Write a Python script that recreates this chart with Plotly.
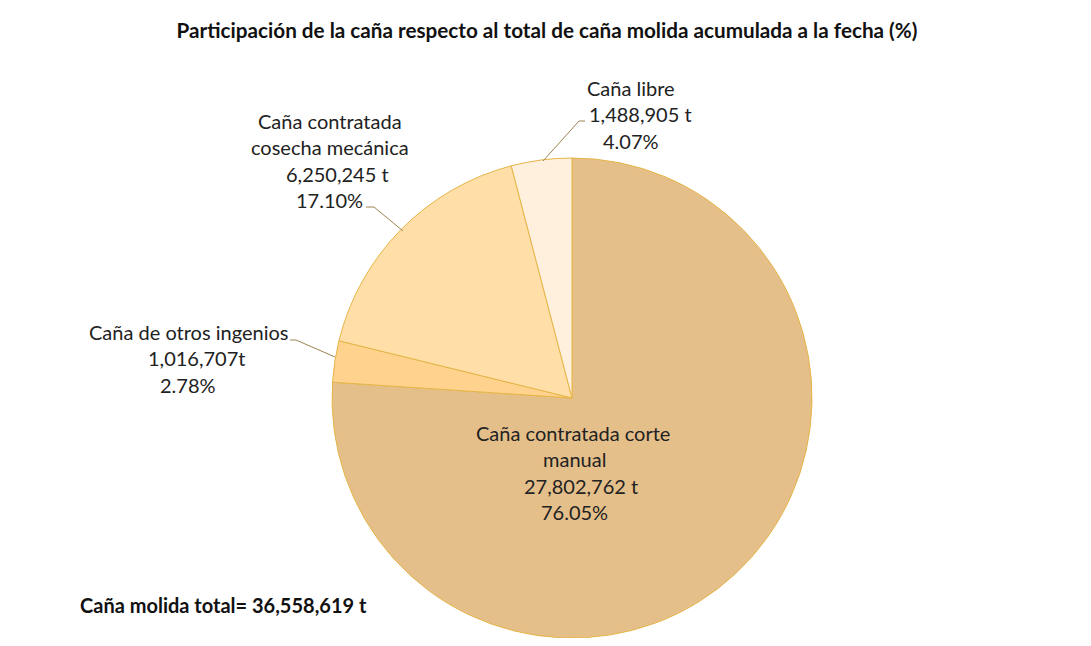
import plotly.graph_objects as go

# data
labels = ["Caña contratada corte manual", "Caña de otros ingenios",
          "Caña contratada cosecha mecánica", "Caña libre"]
tons = [27802762, 1016707, 6250245, 1488905]
percents = [76.05, 2.78, 17.10, 4.07]
total_tons = 36558619

colors = ["#E5BF8A", "#FFD28E", "#FFDFA7", "#FFF0DD"]
FONT = "Lato"

# the page body adds an 8px margin, so the figure is drawn 8px in
OFF = 8
W, H = 1091 - 2 * OFF, 646 - 2 * OFF


def px(x, y):
    return (x - OFF) / W, 1 - (y - OFF) / H


fig = go.Figure()
x0, y0 = px(332, 638)
x1, y1 = px(812, 158)
fig.add_trace(go.Pie(
    labels=labels,
    values=tons,
    sort=False,
    direction="clockwise",
    rotation=0,
    textinfo="none",
    hoverinfo="label+value+percent",
    marker=dict(colors=colors, line=dict(color="#E6B548", width=1)),
    domain=dict(x=[x0, x1], y=[y0, y1]),
    showlegend=False,
))


def fmt_t(v, space=True):
    return f"{v:,}" + (" t" if space else "t")


# label text blocks: lines with their centre x, first line y
blocks = [
    ([("Caña contratada corte", 573), ("manual", 574),
      (fmt_t(tons[0]), 581), (f"{percents[0]:.2f}%", 574)], 433),
    ([("Caña de otros ingenios", 188), (fmt_t(tons[1], False), 196),
      (f"{percents[1]:.2f}%", 188)], 332),
    ([("Caña contratada", 330), ("cosecha mecánica", 330),
      (fmt_t(tons[2]), 337), (f"{percents[2]:.2f}%", 329)], 121),
    ([("Caña libre", 631), (fmt_t(tons[3]), 640), (f"{percents[3]:.2f}%", 631)], 88),
]
for lines, ly in blocks:
    for k, (line, cx) in enumerate(lines):
        x, y = px(cx, ly + k * 26.3)
        fig.add_annotation(x=x, y=y, xref="paper", yref="paper", text=line,
                           showarrow=False, xanchor="center", yanchor="middle",
                           font=dict(family=FONT, size=20, color="#222222"))

# leader lines
leaders = [
    [(335, 357), (296, 340), (290, 340)],
    [(403, 231), (374, 207), (366, 207)],
    [(543, 161), (579, 121), (585, 121)],
]
for pts in leaders:
    path = "M " + " L ".join(f"{px(a, b)[0]} {px(a, b)[1]}" for a, b in pts)
    fig.add_shape(type="path", path=path, xref="paper", yref="paper",
                  line=dict(color="#9C8450", width=1))

tx, ty = px(78, 605)
fig.add_annotation(x=tx, y=ty, xref="paper", yref="paper",
                   text=f"<b>Caña molida total= {total_tons:,} t</b>", showarrow=False,
                   xanchor="left", yanchor="middle",
                   font=dict(family=FONT, size=20, color="#111111"))

fig.update_layout(
    width=W, height=H,
    margin=dict(l=0, r=0, t=0, b=0),
    paper_bgcolor="white",
    title=dict(text="<b>Participación de la caña respecto al total de caña molida acumulada a la fecha (%)</b>",
               x=px(547, 31)[0], xanchor="center", y=px(547, 31)[1], yanchor="middle",
               font=dict(family=FONT, size=20.7, color="#111111")),
)

fig.write_html("out.html")
